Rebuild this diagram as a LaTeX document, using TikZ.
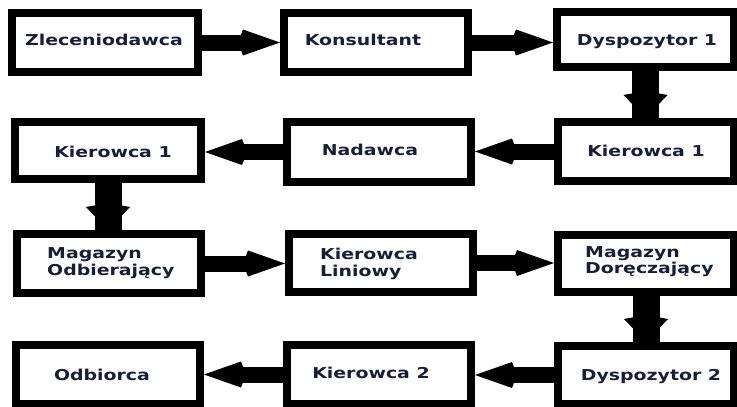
\documentclass[tikz,border=0pt]{standalone}
\usepackage{fontspec}
\newfontfamily\boxfont[FakeStretch=1.26]{DejaVu Sans}
\usetikzlibrary{arrows.meta}
\definecolor{txtcol}{RGB}{25,30,55}
\begin{document}
\begin{tikzpicture}[x=1pt,y=-1pt,
  box/.style={draw=black,line width=8pt,fill=white,inner sep=0pt,rectangle},
  lbl/.style={font=\boxfont\bfseries\fontsize{15}{17}\selectfont,text=txtcol,inner sep=0pt,anchor=base},
  lbll/.style={lbl,anchor=base west},
  harr/.style={line width=16pt,draw=black,
    -{Kite[length=42pt,width=26pt,inset=5pt,line width=0pt]}},
  varr/.style={line width=27pt,draw=black,
    -{Kite[length=27pt,width=44pt,inset=4pt,line width=0pt]}}]
\useasboundingbox (0,0) rectangle (737,407);
% boxes
\node[box,minimum width=186pt,minimum height=59pt] (A) at (105,42.5) {};
\node[box,minimum width=184pt,minimum height=59pt] (B) at (376,42.5) {};
\node[box,minimum width=177pt,minimum height=55pt] (C) at (645.5,39.5) {};
\node[box,minimum width=176pt,minimum height=59pt] (D) at (646,151.5) {};
\node[box,minimum width=184pt,minimum height=60pt] (E) at (379,152) {};
\node[box,minimum width=186pt,minimum height=57pt] (F) at (108,150.5) {};
\node[box,minimum width=184pt,minimum height=59pt] (G) at (109,263.5) {};
\node[box,minimum width=184pt,minimum height=58pt] (H) at (381,263) {};
\node[box,minimum width=176pt,minimum height=57pt] (I) at (646,263.5) {};
\node[box,minimum width=184pt,minimum height=59pt] (J) at (108,374.5) {};
\node[box,minimum width=184pt,minimum height=59pt] (K) at (379,374.5) {};
\node[box,minimum width=176pt,minimum height=58pt] (L) at (646,375) {};
% labels
\node[lbl] (tA) at (104,45) {Zleceniodawca};
\node[lbl] (tB) at (363,45) {Konsultant};
\node[lbl] (tC) at (647,45) {Dyspozytor 1};
\node[lbl] (tD) at (646,156) {Kierowca 1};
\node[lbl] (tE) at (370,155) {Nadawca};
\node[lbl] (tF) at (113,157) {Kierowca 1};
\node[lbll] (tG1) at (47,258) {Magazyn};
\node[lbll] (tG2) at (47,275) {Odbierający};
\node[lbll] (tH1) at (320,259) {Kierowca};
\node[lbll] (tH2) at (320,276) {Liniowy};
\node[lbll] (tI1) at (585,257) {Magazyn};
\node[lbll] (tI2) at (585,273) {Doręczający};
\node[lbl] (tJ) at (102,380) {Odbiorca};
\node[lbl] (tK) at (371,378) {Kierowca 2};
\node[lbl] (tL) at (651,380) {Dyspozytor 2};
% arrows
\draw[harr] (A.east) -- (B.west);
\draw[harr] (B.east) -- (B.east -| C.west);
\draw[varr] (C.south) -- (C.south |- D.north);
\draw[harr] (D.west) -- (D.west -| E.east);
\draw[harr] (E.west) -- (E.west -| F.east);
\draw[varr] (F.south) -- (F.south |- G.north);
\draw[harr] (G.east) -- (G.east -| H.west);
\draw[harr] (H.east) -- (H.east -| I.west);
\draw[varr] (I.south) -- (I.south |- L.north);
\draw[harr] (L.west) -- (L.west -| K.east);
\draw[harr] (K.west) -- (K.west -| J.east);
\end{tikzpicture}
\end{document}
